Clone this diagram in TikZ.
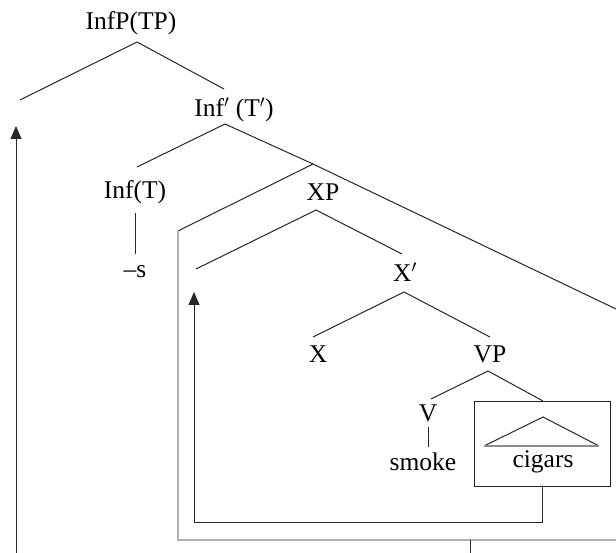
\documentclass[tikz,border=0pt]{standalone}
\usepackage{fontspec}
\setmainfont{Liberation Serif}
\usetikzlibrary{arrows.meta}
\begin{document}
\begin{tikzpicture}[x=1pt,y=-1pt,
  lbl/.style={inner sep=0pt,font=\fontsize{25.5}{30}\selectfont},
  br/.style={line width=1pt,draw=black!85},
  pale/.style={line width=1.8pt,draw=black!30},
  arr/.style={line width=0.9pt,draw=black!85,-{Triangle[length=13pt,width=11pt]}}]
\useasboundingbox (0,0) rectangle (616,553);
% labels
\node[lbl] (infp) at (131,23) {InfP(TP)};
\node[lbl] (infbar) at (234,110) {Inf$'$ (T$'$)};
\node[lbl] (inft) at (135,192) {Inf(T)};
\node[lbl] (s) at (135,272) {--s};
\node[lbl] (xp) at (323,192) {XP};
\node[lbl] (xbar) at (405,272) {X$'$};
\node[lbl] (x) at (318,354) {X};
\node[lbl] (vp) at (490,354) {VP};
\node[lbl] (v) at (428,413) {V};
\node[lbl] (smoke) at (423,462) {smoke};
\node[lbl] (cigars) at (543,462) {cigars};
% coordinates
\coordinate (a1) at (137,42);
\coordinate (spec) at (20,100);
\coordinate (a1r) at (224,89);
\coordinate (a2) at (225,124);
\coordinate (a2l) at (137,167);
\coordinate (pa) at (313,164);
\coordinate (pr) at (616,309);
\coordinate (pl) at (178,231);
\coordinate (pb) at (178,540);
\coordinate (pbr) at (616,540);
\coordinate (a3) at (316,210);
\coordinate (spec2) at (196,269);
\coordinate (a3r) at (402,254);
\coordinate (a4) at (404,292);
\coordinate (a4l) at (313,337);
\coordinate (a4r) at (490,337);
\coordinate (a5) at (488,371);
\coordinate (a5l) at (431,399);
\coordinate (a5r) at (543,401);
\coordinate (t1) at (543,417);
\coordinate (t2) at (484,446);
\coordinate (t3) at (599,446);
\coordinate (vt) at (428,427);
\coordinate (vb) at (428,447);
\coordinate (it) at (135,213);
\coordinate (ib) at (135,254);
\coordinate (boxbot) at (542,486);
\coordinate (c1) at (542,522);
\coordinate (c2) at (194,522);
\coordinate (tip2) at (194,292);
\coordinate (lb) at (16,553);
\coordinate (tip1) at (16,126);
\coordinate (vt2) at (470,540);
\coordinate (vb2) at (470,553);
% box
\draw[br] (474,401) rectangle (610,486);
% branches
\draw[br] (spec) -- (a1) -- (a1r);
\draw[br] (a2l) -- (a2) -- (pa) -- (pr);
\draw[br] (pa) -- (pl);
\draw[pale] (pl) -- (pb) -- (pbr);
\draw[br] (spec2) -- (a3) -- (a3r);
\draw[br] (a4l) -- (a4) -- (a4r);
\draw[br] (a5l) -- (a5) -- (a5r);
\draw[br] (it) -- (ib);
\draw[br] (vt) -- (vb);
\draw[br] (t2) -- (t1) -- (t3);
\draw[line width=1.6pt,draw=black!45] (t2) -- (t3);
% movement arrows
\draw[arr] (boxbot) -- (c1) -- (c2) -- (tip2);
\draw[arr] (lb) -- (tip1);
\draw[br] (vt2) -- (vb2);
\end{tikzpicture}
\end{document}
